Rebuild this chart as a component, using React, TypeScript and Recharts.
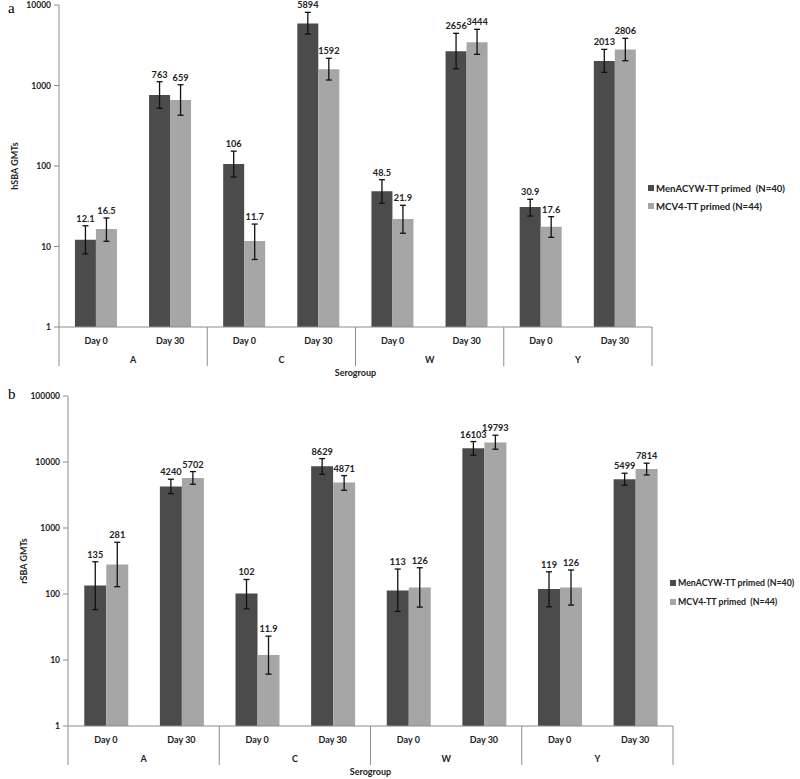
import { Bar, BarChart, ErrorBar, LabelList, Legend, XAxis, YAxis } from "recharts";

const days = ["Day 0", "Day 30", "Day 0", "Day 30", "Day 0", "Day 30", "Day 0", "Day 30"];
const groups = ["A", "A", "C", "C", "W", "W", "Y", "Y"];

// panel a – hSBA GMTs with 95% CI
const menH = [12.1, 763, 106, 5894, 48.5, 2656, 30.9, 2013];
const menHLow = [8.1, 521, 73, 4360, 34.4, 1620, 23.9, 1456];
const menHHigh = [18.1, 1115, 153, 8110, 67.6, 4450, 38.6, 2810];
const mcvH = [16.5, 659, 11.7, 1592, 21.9, 3444, 17.6, 2806];
const mcvHLow = [11.6, 427, 6.9, 1170, 14.6, 2440, 13.0, 2032];
const mcvHHigh = [22.6, 1023, 19, 2180, 32.5, 4990, 23.5, 3856];

// panel b – rSBA GMTs with 95% CI
const menR = [135, 4240, 102, 8629, 113, 16103, 119, 5499];
const menRLow = [58, 3320, 59.7, 6530, 54.5, 12680, 64, 4450];
const menRHigh = [308, 5480, 166, 11270, 239, 20400, 217, 6760];
const mcvR = [281, 5702, 11.9, 4871, 126, 19793, 126, 7814];
const mcvRLow = [129, 4600, 6.1, 3730, 63.3, 15630, 68, 6370];
const mcvRHigh = [607, 7160, 23, 6220, 250, 25500, 231, 9600];

const ticksA = [1, 10, 100, 1000, 10000];
const ticksB = [1, 10, 100, 1000, 10000, 100000];
const seriesOrder = ["men", "mcv"];

const DARK = "#4b4b4b";
const LIGHT = "#a6a6a6";
const AXIS = "#8c8c8c";
const FONT = "Lato, 'Open Sans', sans-serif";

function buildRows(
  men: number[], menLow: number[], menHigh: number[],
  mcv: number[], mcvLow: number[], mcvHigh: number[],
) {
  return days.map((day, i) => ({
    cat: `${groups[i]}|${day}`,
    men: men[i],
    menErr: [men[i] - menLow[i], menHigh[i] - men[i]],
    mcv: mcv[i],
    mcvErr: [mcv[i] - mcvLow[i], mcvHigh[i] - mcv[i]],
  }));
}

const rowsA = buildRows(menH, menHLow, menHHigh, mcvH, mcvHLow, mcvHHigh);
const rowsB = buildRows(menR, menRLow, menRHigh, mcvR, mcvRLow, mcvRHigh);

// label sits just above the upper CI cap; lift derived from the bar's own log geometry
function valueLabel(values: number[], high: number[]) {
  return (props: any) => {
    const vb = props.viewBox ?? props;
    const x = Number(props.x ?? vb.x);
    const y = Number(props.y ?? vb.y);
    const w = Number(props.width ?? vb.width);
    const h = Number(props.height ?? vb.height);
    const i = props.index;
    const v = values[i];
    const lift = (h * Math.log10(high[i] / v)) / Math.log10(v);
    return (
      <text x={x + w / 2} y={y - lift - 4} textAnchor="middle" fontSize={9.2} fontWeight={700} fill="#222" fontFamily={FONT}>
        {String(v)}
      </text>
    );
  };
}

function GroupTick(props: any) {
  const { x, y, index, payload } = props;
  const off = payload?.offset ?? 0;
  const last = index === days.length - 1;
  return (
    <g>
      <text x={x} y={y + 17} textAnchor="middle" fontSize={9} fontWeight={700} fill="#222" fontFamily={FONT}>
        {days[index]}
      </text>
      {index % 2 === 1 && (
        <text x={x - off} y={y + 36} textAnchor="middle" fontSize={9} fontWeight={700} fill="#222" fontFamily={FONT}>
          {groups[index]}
        </text>
      )}
      {index % 2 === 0 && <line x1={x - off} x2={x - off} y1={y} y2={y + 39} stroke={AXIS} strokeWidth={1} />}
      {last && <line x1={x + off} x2={x + off} y1={y} y2={y + 39} stroke={AXIS} strokeWidth={1} />}
    </g>
  );
}

function LegendBox(props: any) {
  const items = [...(props.payload ?? [])].sort(
    (a: any, b: any) => seriesOrder.indexOf(a.dataKey) - seriesOrder.indexOf(b.dataKey),
  );
  return (
    <div style={{ fontFamily: FONT, fontSize: props.fontSize, fontWeight: 700, color: "#222" }}>
      {items.map((it: any) => (
        <div key={it.value} style={{ display: "flex", alignItems: "center", height: props.rowH, whiteSpace: "pre" }}>
          <span style={{ width: 6, height: 6, background: it.color, marginRight: 2, display: "inline-block", flexShrink: 0 }} />
          {it.value}
        </div>
      ))}
    </div>
  );
}

function Panel({
  letter, rows, men, menHigh, mcv, mcvHigh, ticks, yLabel, height, margin, legendLeft, legendTop, rowH, legendFont, names,
}: any) {
  return (
    <div style={{ position: "relative", width: 800, height }}>
      <div style={{ position: "absolute", left: 8, top: letter === "a" ? 0 : 6, fontFamily: "'Liberation Serif', serif", fontSize: 15 }}>
        {letter}
      </div>
      <BarChart width={800} height={height} data={rows} margin={margin} barCategoryGap="21.5%" barGap={0}>
        <XAxis
          dataKey="cat"
          height={53}
          tickLine={false}
          tickSize={0}
          tickMargin={0}
          interval={0}
          stroke={AXIS}
          tick={<GroupTick />}
          label={{ value: "Serogroup", position: "insideBottom", offset: 4, fontSize: 9, fontWeight: 700, fill: "#222", fontFamily: FONT }}
        />
        <YAxis
          scale="log"
          domain={[ticks[0], ticks[ticks.length - 1]]}
          ticks={ticks}
          allowDataOverflow
          width={50}
          stroke={AXIS}
          tickSize={5}
          tickMargin={3}
          tick={{ fontSize: 8.5, fontWeight: 700, fill: "#222", fontFamily: FONT }}
          label={({ viewBox }: any) => (
            <text
              transform={`translate(${viewBox.x + 9}, ${viewBox.y + viewBox.height / 2}) rotate(-90)`}
              textAnchor="middle"
              fontSize={9}
              fontWeight={700}
              fill="#222"
              fontFamily={FONT}
            >
              {yLabel}
            </text>
          )}
        />
        <Legend
          layout="vertical"
          align="center"
          verticalAlign="middle"
          wrapperStyle={{ left: legendLeft, top: legendTop, width: 800 - legendLeft, height: "auto" }}
          content={<LegendBox rowH={rowH} fontSize={legendFont} />}
        />
        <Bar dataKey="men" name={names[0]} fill={DARK} isAnimationActive={false}>
          <ErrorBar dataKey="menErr" width={3} stroke="#111" strokeWidth={1.3} />
          <LabelList dataKey="men" content={valueLabel(men, menHigh)} />
        </Bar>
        <Bar dataKey="mcv" name={names[1]} fill={LIGHT} isAnimationActive={false}>
          <ErrorBar dataKey="mcvErr" width={3} stroke="#111" strokeWidth={1.3} />
          <LabelList dataKey="mcv" content={valueLabel(mcv, mcvHigh)} />
        </Bar>
      </BarChart>
    </div>
  );
}

export default function App() {
  return (
    <div style={{ position: "absolute", left: 0, top: 0, width: 800, height: 779, background: "#fff" }}>
      <Panel
        letter="a"
        rows={rowsA}
        men={menH}
        menHigh={menHHigh}
        mcv={mcvH}
        mcvHigh={mcvHHigh}
        ticks={ticksA}
        yLabel="hSBA GMTs"
        height={380}
        margin={{ top: 5, right: 148, bottom: 0, left: 9 }}
        legendLeft={648}
        legendTop={179}
        rowH={18}
        legendFont={9.6}
        names={["MenACYW-TT primed  (N=40)", "MCV4-TT primed (N=44)"]}
      />
      <Panel
        letter="b"
        rows={rowsB}
        men={menR}
        menHigh={menRHigh}
        mcv={mcvR}
        mcvHigh={mcvRHigh}
        ticks={ticksB}
        yLabel="rSBA GMTs"
        height={399}
        margin={{ top: 16, right: 127, bottom: 0, left: 18 }}
        legendLeft={670}
        legendTop={193}
        rowH={19}
        legendFont={8.8}
        names={["MenACYW-TT primed (N=40)", "MCV4-TT primed  (N=44)"]}
      />
    </div>
  );
}
